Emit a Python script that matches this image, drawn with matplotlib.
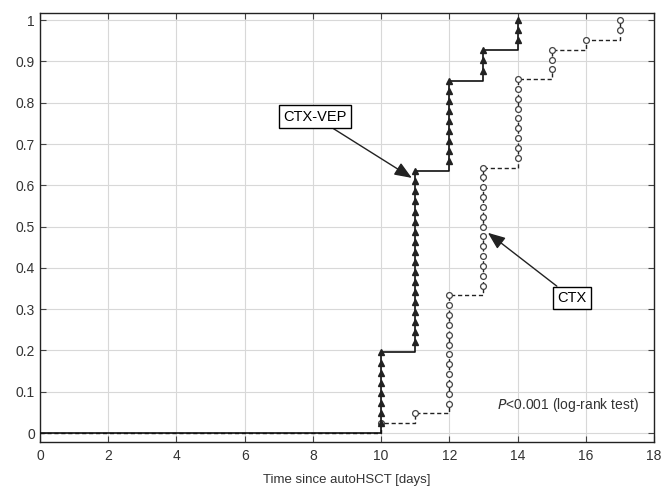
import matplotlib
matplotlib.use("Agg")
import matplotlib.pyplot as plt
import numpy as np

plt.rcParams['font.family'] = ['Liberation Sans', 'DejaVu Sans']

# Data: event days and number of events per day
vep_times = [10, 11, 12, 13, 14]
vep_events = [8, 18, 9, 3, 3]
vep_n = 41

ctx_times = [10, 11, 12, 13, 14, 15, 16, 17]
ctx_events = [1, 1, 12, 13, 9, 3, 1, 2]
ctx_n = 42

xticks = [0, 2, 4, 6, 8, 10, 12, 14, 16, 18]
yticks = [0, 0.1, 0.2, 0.3, 0.4, 0.5, 0.6, 0.7, 0.8, 0.9, 1.0]
ytick_labels = ["0", "0.1", "0.2", "0.3", "0.4", "0.5", "0.6", "0.7", "0.8", "0.9", "1"]

fig = plt.figure(figsize=(6.62, 4.88), dpi=100)
ax = fig.add_axes([0.0604, 0.094, 0.9276, 0.879])


def step_data(times, events, n):
    xs = [0]
    ys = [0]
    cum = 0
    mx, my = [], []
    for t, e in zip(times, events):
        xs.append(t)
        ys.append(cum / n)
        for k in range(e):
            cum += 1
            mx.append(t)
            my.append(cum / n)
        xs.append(t)
        ys.append(cum / n)
    return xs, ys, mx, my


cx, cy, cmx, cmy = step_data(ctx_times, ctx_events, ctx_n)
vx, vy, vmx, vmy = step_data(vep_times, vep_events, vep_n)

ax.plot(cx, cy, color='#222222', lw=1.0, ls=(0, (3, 2)), zorder=3)
ax.plot(cmx, cmy, ls='none', marker='o', ms=4.2, mfc='white', mec='#444444',
        mew=0.9, zorder=4)
ax.plot(vx, vy, color='#111111', lw=1.2, zorder=5)
ax.plot(vmx, vmy, ls='none', marker='^', ms=4.5, mfc='#222222', mec='#222222',
        zorder=6)

ax.set_xlim(0, 18)
ax.set_ylim(-0.022, 1.017)
ax.set_xticks(xticks)
ax.set_yticks(yticks)
ax.set_yticklabels(ytick_labels)
ax.grid(True, color='#d8d8d8', lw=0.8)
ax.set_axisbelow(True)
ax.tick_params(direction='in', top=True, right=True, labelsize=10,
               labelcolor='#333333', length=4, color='#444444')
ax.tick_params(axis='x', pad=5)
for s in ax.spines.values():
    s.set_color('#222222')
    s.set_linewidth(1.0)

ax.set_xlabel("Time since autoHSCT [days]", fontsize=9.5, color='#333333', labelpad=8)

box = dict(boxstyle='square,pad=0.3', fc='white', ec='black', lw=1.0)
arrow = dict(arrowstyle='-|>,head_length=1.0,head_width=0.4', color='#222222',
             lw=1.0, shrinkA=0, shrinkB=0)
ax.annotate("CTX-VEP", xy=(10.9, 0.618), xytext=(8.05, 0.766), fontsize=10.5,
            ha='center', va='center', bbox=box, arrowprops=arrow, zorder=7)
ax.annotate("CTX", xy=(13.13, 0.485), xytext=(15.6, 0.327), fontsize=10.5,
            ha='center', va='center', bbox=box, arrowprops=arrow, zorder=7)

ax.text(17.55, 0.068, r"$\it{P}$<0.001 (log-rank test)", fontsize=10,
        ha='right', va='center', color='#333333')

fig.savefig("out.png", dpi=100)
